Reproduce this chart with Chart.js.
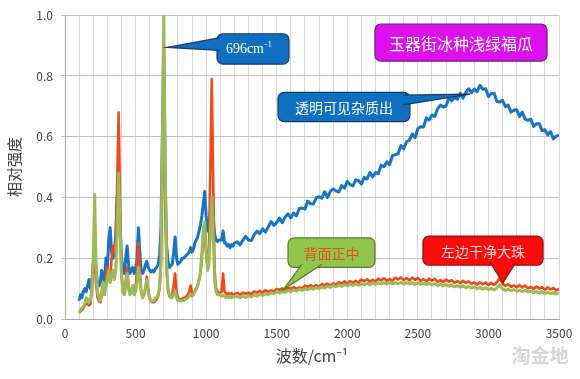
<!DOCTYPE html>
<html><head><meta charset="utf-8">
<script src="https://cdn.jsdelivr.net/npm/chart.js@4.4.0/dist/chart.umd.min.js"></script>
<style>html,body{margin:0;padding:0;background:#fff;}canvas{display:block;}</style>
</head><body>
<canvas id="c" width="580" height="379"></canvas>
<script>
// ---- data ----
const lowWavenumbers = [
100,110,120,130,140,150,160,170,180,190,
200,210,220,230,240,250,260,270,280,290,
300,310,320,330,340,350,360,370,380,390,
400,410,420,430,440,450,460,470,480,490,
500,510,520,530,540,550,560,570,580,590,
600,610,620,630,640,650,660,670,680,690,
700,710,720,730,740,750,760,770,780,790,
800,810,820,830,840,850,860,870,880,890,
900,910,920,930,940,950,960,970,980,990,
1000,1010,1020,1030,1040,1050,1060,1070,1080,1090,
1100,1110,1120,1130,1140,1150,1160,1170,1180,1190,
1200];
const highWavenumbers = [
1220,1240,1260,1280,1300,1320,1340,1360,1380,1400,
1420,1440,1460,1480,1500,1520,1540,1560,1580,1600,
1620,1640,1660,1680,1700,1720,1740,1760,1780,1800,
1820,1840,1860,1880,1900,1920,1940,1960,1980,2000,
2020,2040,2060,2080,2100,2120,2140,2160,2180,2200,
2220,2240,2260,2280,2300,2320,2340,2360,2380,2400,
2420,2440,2460,2480,2500,2520,2540,2560,2580,2600,
2620,2640,2660,2680,2700,2720,2740,2760,2780,2800,
2820,2840,2860,2880,2900,2920,2940,2960,2980,3000,
3020,3040,3060,3080,3100,3120,3140,3160,3180,3200,
3220,3240,3260,3280,3300,3320,3340,3360,3380,3400,
3420,3440,3460,3480,3500];

// 透明可见杂质出 (blue)
const blueLow = [
0.06,0.08,0.07,0.09,0.1,0.09,0.11,0.13,0.1,0.12,
0.18,0.23,0.16,0.12,0.11,0.12,0.16,0.14,0.12,0.2,
0.16,0.26,0.3,0.22,0.2,0.22,0.28,0.4,0.45,0.3,
0.2,0.16,0.15,0.2,0.24,0.18,0.15,0.16,0.17,0.15,
0.16,0.2,0.3,0.22,0.16,0.15,0.16,0.18,0.19,0.17,
0.16,0.155,0.16,0.155,0.165,0.17,0.18,0.21,0.3,0.6,
0.9,0.45,0.24,0.19,0.17,0.175,0.18,0.22,0.27,0.2,
0.18,0.185,0.19,0.2,0.2,0.205,0.21,0.215,0.22,0.235,
0.22,0.23,0.25,0.26,0.27,0.29,0.31,0.34,0.38,0.42,
0.34,0.29,0.3,0.35,0.38,0.33,0.28,0.26,0.255,0.26,
0.26,0.26,0.29,0.25,0.25,0.24,0.245,0.235,0.245,0.24,
0.25];
const blueHigh = [
0.254,0.244,0.259,0.272,0.260,0.258,0.277,0.289,0.281,0.297,
0.286,0.303,0.321,0.308,0.318,0.332,0.317,0.336,0.346,0.333,
0.349,0.339,0.364,0.365,0.362,0.388,0.379,0.379,0.399,0.402,
0.398,0.419,0.400,0.420,0.428,0.422,0.418,0.439,0.431,0.453,
0.442,0.438,0.458,0.455,0.444,0.466,0.461,0.482,0.468,0.482,
0.479,0.506,0.501,0.517,0.508,0.538,0.541,0.544,0.571,0.560,
0.584,0.588,0.609,0.597,0.627,0.633,0.632,0.662,0.655,0.671,
0.667,0.692,0.704,0.698,0.701,0.728,0.718,0.730,0.723,0.743,
0.727,0.746,0.758,0.745,0.757,0.748,0.769,0.756,0.758,0.732,
0.742,0.743,0.716,0.714,0.720,0.699,0.704,0.681,0.687,0.689,
0.667,0.681,0.658,0.654,0.658,0.634,0.643,0.643,0.620,0.623,
0.606,0.617,0.593,0.602,0.605];

// 左边干净大珠 (red)
const redLow = [
0.02,0.025,0.03,0.035,0.045,0.05,0.05,0.045,0.05,0.09,
0.17,0.2,0.12,0.07,0.06,0.055,0.08,0.11,0.08,0.14,
0.17,0.14,0.13,0.2,0.24,0.22,0.26,0.45,0.68,0.4,
0.16,0.09,0.08,0.12,0.17,0.11,0.08,0.09,0.11,0.08,
0.1,0.16,0.25,0.16,0.09,0.07,0.08,0.1,0.14,0.09,
0.065,0.06,0.055,0.055,0.06,0.065,0.075,0.1,0.18,0.5,
0.85,0.4,0.15,0.09,0.075,0.07,0.08,0.11,0.15,0.09,
0.07,0.065,0.065,0.065,0.07,0.07,0.075,0.08,0.09,0.11,
0.085,0.085,0.09,0.1,0.11,0.13,0.15,0.2,0.27,0.3,
0.22,0.17,0.24,0.5,0.79,0.45,0.16,0.1,0.09,0.085,
0.085,0.09,0.15,0.09,0.085,0.08,0.085,0.08,0.085,0.08,
0.082];
const redHigh = [
0.086,0.080,0.087,0.083,0.087,0.081,0.091,0.087,0.093,0.086,
0.095,0.089,0.094,0.091,0.099,0.096,0.101,0.094,0.103,0.099,
0.105,0.099,0.104,0.101,0.110,0.106,0.111,0.104,0.112,0.106,
0.115,0.111,0.117,0.110,0.118,0.112,0.121,0.117,0.124,0.116,
0.125,0.119,0.126,0.120,0.130,0.124,0.131,0.123,0.129,0.124,
0.133,0.127,0.134,0.126,0.132,0.126,0.136,0.130,0.137,0.128,
0.135,0.127,0.136,0.129,0.135,0.125,0.131,0.124,0.133,0.126,
0.132,0.122,0.128,0.121,0.130,0.123,0.128,0.119,0.125,0.118,
0.126,0.119,0.124,0.115,0.121,0.113,0.121,0.115,0.120,0.111,
0.119,0.112,0.121,0.135,0.116,0.109,0.115,0.106,0.111,0.104,
0.112,0.104,0.110,0.101,0.106,0.099,0.107,0.100,0.105,0.096,
0.104,0.097,0.102,0.094,0.099];

// 背面正中 (green)
const greenLow = [
0.02,0.03,0.035,0.04,0.05,0.07,0.065,0.055,0.06,0.1,
0.2,0.41,0.18,0.09,0.07,0.06,0.09,0.12,0.08,0.11,
0.13,0.16,0.12,0.14,0.16,0.13,0.16,0.3,0.48,0.3,
0.14,0.09,0.08,0.11,0.15,0.1,0.08,0.09,0.11,0.08,
0.09,0.12,0.17,0.14,0.09,0.07,0.08,0.1,0.13,0.09,
0.07,0.06,0.06,0.06,0.07,0.07,0.08,0.11,0.2,0.6,
1.0,0.5,0.18,0.1,0.08,0.07,0.07,0.08,0.09,0.07,
0.06,0.06,0.06,0.06,0.06,0.065,0.065,0.07,0.075,0.08,
0.075,0.08,0.09,0.1,0.11,0.13,0.16,0.22,0.3,0.32,
0.22,0.16,0.18,0.28,0.4,0.28,0.13,0.09,0.08,0.08,
0.08,0.075,0.077,0.075,0.07,0.075,0.07,0.075,0.07,0.075,
0.072];
const greenHigh = [
0.074,0.070,0.076,0.071,0.077,0.073,0.079,0.075,0.081,0.077,
0.084,0.080,0.087,0.083,0.090,0.086,0.092,0.088,0.094,0.090,
0.096,0.092,0.098,0.094,0.100,0.096,0.102,0.098,0.104,0.100,
0.106,0.102,0.108,0.104,0.110,0.106,0.112,0.107,0.113,0.109,
0.115,0.110,0.116,0.111,0.117,0.112,0.118,0.113,0.119,0.114,
0.120,0.115,0.120,0.115,0.121,0.115,0.120,0.116,0.121,0.115,
0.120,0.116,0.120,0.114,0.119,0.114,0.118,0.113,0.117,0.112,
0.116,0.110,0.115,0.109,0.113,0.108,0.112,0.106,0.110,0.105,
0.109,0.103,0.107,0.102,0.106,0.100,0.104,0.098,0.103,0.097,
0.101,0.096,0.102,0.112,0.099,0.094,0.098,0.093,0.097,0.091,
0.095,0.090,0.094,0.089,0.092,0.087,0.091,0.086,0.090,0.084,
0.088,0.083,0.087,0.082,0.085];

const xTickLabels = [0,500,1000,1500,2000,2500,3000,3500];
const yTickLabels = [0,0.2,0.4,0.6,0.8,1.0];
const seriesNames = ['背面正中','左边干净大珠','透明可见杂质出'];

// ---- build ----
const wavenumbers = lowWavenumbers.concat(highWavenumbers);
function pts(low, high){ const ys = low.concat(high); return wavenumbers.map((x,i)=>({x:x, y:ys[i]})); }

const CJK = '"Noto Sans CJK SC","Noto Sans",sans-serif';

const callouts = [
  {text:'696cm', sup:'-1', box:[1077,0.939,1587,0.839], ptr:[[1098,0.926],[723,0.894],[1098,0.884]],
   fill:'#0f6fc0', stroke:'#1c3a64', color:'#ffffff', font:'14px "Liberation Serif",serif', tx:1140, ty:0.875},
  {text:'玉器街冰种浅绿福瓜', box:[2196,0.971,3415,0.849], fill:'#dc10ee', stroke:'#6a1f78', color:'#ffffff', font:'16px '+CJK},
  {text:'透明可见杂质出', box:[1509,0.746,2444,0.650], ptr:[[2395,0.737],[2869,0.740],[2395,0.705]],
   fill:'#0f6fc0', stroke:'#1c3a64', color:'#ffffff', font:'14px '+CJK},
  {text:'背面正中', box:[1580,0.267,2196,0.170], ptr:[[1679,0.180],[1545,0.096],[1821,0.180]],
   fill:'#92c54c', stroke:'#557d2c', color:'#e4501a', font:'14px '+CJK},
  {text:'左边干净大珠', box:[2536,0.273,3387,0.177], ptr:[[3011,0.187],[3103,0.119],[3195,0.187]],
   fill:'#f80c0c', stroke:'#8e1515', color:'#ffd4d4', font:'14px '+CJK}
];

function rr(ctx,x,y,w,h,r){ctx.beginPath();ctx.moveTo(x+r,y);ctx.arcTo(x+w,y,x+w,y+h,r);ctx.arcTo(x+w,y+h,x,y+h,r);ctx.arcTo(x,y+h,x,y,r);ctx.arcTo(x,y,x+w,y,r);ctx.closePath();}

const calloutPlugin = {
  id:'callouts',
  afterDatasetsDraw(chart){
    const ctx = chart.ctx, sx = chart.scales.x, sy = chart.scales.y;
    const px = v=>sx.getPixelForValue(v), py = v=>sy.getPixelForValue(v);
    ctx.save();
    callouts.forEach(c=>{
      const x1=px(c.box[0]), y1=py(c.box[1]), x2=px(c.box[2]), y2=py(c.box[3]);
      ctx.lineWidth=1.2;
      rr(ctx,x1,y1,x2-x1,y2-y1,6);
      ctx.fillStyle=c.fill; ctx.fill(); ctx.strokeStyle=c.stroke; ctx.stroke();
      if(c.ptr){
        const p=c.ptr.map(q=>[px(q[0]),py(q[1])]);
        ctx.beginPath(); ctx.moveTo(p[0][0],p[0][1]); ctx.lineTo(p[1][0],p[1][1]); ctx.lineTo(p[2][0],p[2][1]); ctx.closePath();
        ctx.fillStyle=c.fill; ctx.fill();
        ctx.beginPath(); ctx.moveTo(p[0][0],p[0][1]); ctx.lineTo(p[1][0],p[1][1]); ctx.lineTo(p[2][0],p[2][1]);
        ctx.strokeStyle=c.stroke; ctx.stroke();
      }
      ctx.fillStyle=c.color; ctx.font=c.font;
      if(c.sup){
        ctx.textAlign='left'; ctx.textBaseline='alphabetic';
        const tx=px(c.tx), ty=py(c.ty);
        ctx.fillText(c.text,tx,ty);
        const w=ctx.measureText(c.text).width;
        ctx.font='9px "Liberation Serif",serif';
        ctx.fillText(c.sup,tx+w+0.5,ty-6);
      } else {
        ctx.textAlign='center'; ctx.textBaseline='middle';
        ctx.fillText(c.text,(x1+x2)/2,(y1+y2)/2+1);
      }
    });
    // watermark
    ctx.font='bold 19px '+CJK; ctx.fillStyle='rgba(200,200,200,0.75)'; ctx.textAlign='center'; ctx.textBaseline='middle';
    ctx.fillText('淘金地',540,356);
    ctx.restore();
  }
};

new Chart(document.getElementById('c'),{
  type:'line',
  data:{datasets:[
    {label:seriesNames[0], data:pts(greenLow,greenHigh), borderColor:'#9bbb59', borderWidth:3, order:1},
    {label:seriesNames[1], data:pts(redLow,redHigh), borderColor:'#ef4a1a', borderWidth:2.6, order:2},
    {label:seriesNames[2], data:pts(blueLow,blueHigh), borderColor:'#1673c6', borderWidth:3, order:3}
  ]},
  options:{
    responsive:false, animation:false, devicePixelRatio:1,
    elements:{point:{radius:0}, line:{tension:0, borderJoinStyle:'round'}},
    layout:{padding:{left:0,right:21,top:8,bottom:0}},
    plugins:{legend:{display:false}, tooltip:{enabled:false}},
    scales:{
      x:{type:'linear', min:0, max:3500,
        afterFit:s=>{s.height=60;},
        ticks:{stepSize:100, autoSkip:false, maxRotation:0, padding:7, color:'#404040',
          font:{family:CJK, size:12},
          callback:v=> xTickLabels.includes(v) ? String(v) : ''},
        grid:{color:'#d9d9d9', drawTicks:false, lineWidth:1},
        border:{color:'#a6a6a6'},
        title:{display:true, text:'波数/cm⁻¹', color:'#404040', font:{family:CJK, size:16}, padding:{top:0,bottom:13}}
      },
      y:{min:0, max:1,
        afterFit:s=>{s.width=65;},
        afterBuildTicks:s=>{s.ticks=yTickLabels.map(v=>({value:v}));},
        ticks:{padding:8, color:'#404040', font:{family:CJK, size:12}, callback:v=>Number(v).toFixed(1)},
        grid:{color:'#bfbfbf', tickLength:4, lineWidth:1},
        border:{color:'#a6a6a6'},
        title:{display:true, text:'相对强度', color:'#404040', font:{family:CJK, size:15}, padding:{top:5,bottom:0}}
      }
    }
  },
  plugins:[calloutPlugin]
});
</script>
</body></html>
